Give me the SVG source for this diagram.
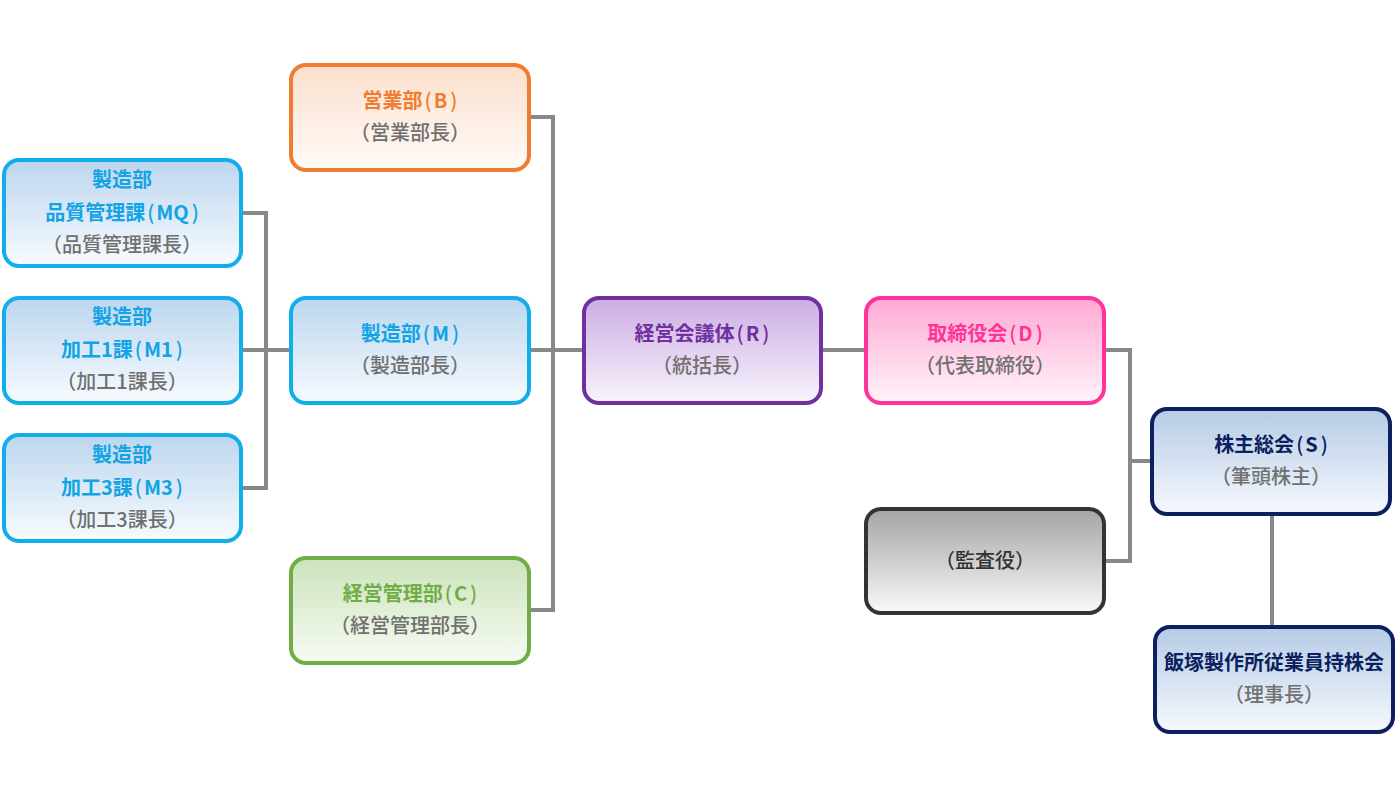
<svg xmlns="http://www.w3.org/2000/svg" width="1400" height="790" viewBox="0 0 1400 790">
<defs>
<linearGradient id="gCyan" x1="0" y1="0" x2="0" y2="1"><stop offset="0" stop-color="#bcd6ee"/><stop offset="1" stop-color="#f7fbff"/></linearGradient>
<linearGradient id="gOrange" x1="0" y1="0" x2="0" y2="1"><stop offset="0" stop-color="#fbdfcc"/><stop offset="1" stop-color="#fffbf8"/></linearGradient>
<linearGradient id="gGreen" x1="0" y1="0" x2="0" y2="1"><stop offset="0" stop-color="#cbe3bb"/><stop offset="1" stop-color="#f7fbf4"/></linearGradient>
<linearGradient id="gPurple" x1="0" y1="0" x2="0" y2="1"><stop offset="0" stop-color="#cbade3"/><stop offset="1" stop-color="#f8f4fc"/></linearGradient>
<linearGradient id="gPink" x1="0" y1="0" x2="0" y2="1"><stop offset="0" stop-color="#ffa9d4"/><stop offset="1" stop-color="#fff4fa"/></linearGradient>
<linearGradient id="gGray" x1="0" y1="0" x2="0" y2="1"><stop offset="0" stop-color="#a4a4a4"/><stop offset="1" stop-color="#f9f9f9"/></linearGradient>
<linearGradient id="gNavy" x1="0" y1="0" x2="0" y2="1"><stop offset="0" stop-color="#b6cbe6"/><stop offset="1" stop-color="#f6f9fe"/></linearGradient>
</defs>
<style>
.box{stroke-width:4}
.cyan{fill:url(#gCyan);stroke:#12aeea}
.orange{fill:url(#gOrange);stroke:#ee7d31}
.green{fill:url(#gGreen);stroke:#71ad47}
.purple{fill:url(#gPurple);stroke:#7030a0}
.pink{fill:url(#gPink);stroke:#ff3399}
.gray{fill:url(#gGray);stroke:#333333}
.navy{fill:url(#gNavy);stroke:#0c1f5e}
text{font-family:"Noto Sans CJK JP","Noto Sans",sans-serif;font-size:20px;text-anchor:middle}
.t{font-weight:700}
.s{font-weight:500;fill:#707070}
.tc{fill:#12a4e4}
.to{fill:#ee7d31}
.tg{fill:#71ad47}
.tp{fill:#7030a0}
.tk{fill:#ff3399}
.tn{fill:#0c1f5e}
.td{font-weight:500;fill:#333333}
.p{font-weight:500}
.conn{fill:none;stroke:#888888;stroke-width:4}
</style>
<rect width="1400" height="790" fill="#ffffff"/>
<g id="connectors">
<path class="conn" d="M243 213H266V488H243M243 350H289"/>
<path class="conn" d="M531 117H553V610H531M531 350H582"/>
<path class="conn" d="M823 350H864"/>
<path class="conn" d="M1106 350H1130V561H1106M1130 461H1150"/>
<path class="conn" d="M1272 516V625"/>
</g>
<g id="node-B">
<rect class="box orange" x="291" y="65" width="238" height="105" rx="15"/>
<text class="t to" x="410" y="108">営業部<tspan class="p" dx="2">(</tspan><tspan dx="2">B</tspan><tspan class="p" dx="3">)</tspan></text>
<text class="s" x="410" y="140">（営業部長）</text>
</g>
<g id="node-M">
<rect class="box cyan" x="291" y="298" width="238" height="105" rx="15"/>
<text class="t tc" x="410" y="341">製造部<tspan class="p" dx="2">(</tspan><tspan dx="2">M</tspan><tspan class="p" dx="3">)</tspan></text>
<text class="s" x="410" y="373">（製造部長）</text>
</g>
<g id="node-C">
<rect class="box green" x="291" y="558" width="238" height="105" rx="15"/>
<text class="t tg" x="410" y="601">経営管理部<tspan class="p" dx="2">(</tspan><tspan dx="2">C</tspan><tspan class="p" dx="3">)</tspan></text>
<text class="s" x="410" y="633">（経営管理部長）</text>
</g>
<g id="node-MQ">
<rect class="box cyan" x="4" y="160" width="237" height="106" rx="15"/>
<text class="t tc" x="122" y="187">製造部</text>
<text class="t tc" x="122" y="220">品質管理課<tspan class="p" dx="2">(</tspan><tspan dx="2">MQ</tspan><tspan class="p" dx="3">)</tspan></text>
<text class="s" x="122" y="252">（品質管理課長）</text>
</g>
<g id="node-M1">
<rect class="box cyan" x="4" y="298" width="237" height="105" rx="15"/>
<text class="t tc" x="122" y="324">製造部</text>
<text class="t tc" x="122" y="357">加工1課<tspan class="p" dx="2">(</tspan><tspan dx="2">M1</tspan><tspan class="p" dx="3">)</tspan></text>
<text class="s" x="122" y="389">（加工1課長）</text>
</g>
<g id="node-M3">
<rect class="box cyan" x="4" y="435" width="237" height="106" rx="15"/>
<text class="t tc" x="122" y="462">製造部</text>
<text class="t tc" x="122" y="495">加工3課<tspan class="p" dx="2">(</tspan><tspan dx="2">M3</tspan><tspan class="p" dx="3">)</tspan></text>
<text class="s" x="122" y="527">（加工3課長）</text>
</g>
<g id="node-R">
<rect class="box purple" x="584" y="298" width="237" height="105" rx="15"/>
<text class="t tp" x="702" y="341">経営会議体<tspan class="p" dx="2">(</tspan><tspan dx="2">R</tspan><tspan class="p" dx="3">)</tspan></text>
<text class="s" x="702" y="373">（統括長）</text>
</g>
<g id="node-D">
<rect class="box pink" x="866" y="298" width="238" height="105" rx="15"/>
<text class="t tk" x="985" y="341">取締役会<tspan class="p" dx="2">(</tspan><tspan dx="2">D</tspan><tspan class="p" dx="3">)</tspan></text>
<text class="s" x="985" y="373">（代表取締役）</text>
</g>
<g id="node-audit">
<rect class="box gray" x="866" y="509" width="238" height="104" rx="15"/>
<text class="td" x="985" y="568">（監査役）</text>
</g>
<g id="node-S">
<rect class="box navy" x="1152" y="409" width="238" height="105" rx="15"/>
<text class="t tn" x="1271" y="452">株主総会<tspan class="p" dx="2">(</tspan><tspan dx="2">S</tspan><tspan class="p" dx="3">)</tspan></text>
<text class="s" x="1271" y="484">（筆頭株主）</text>
</g>
<g id="node-ESOP">
<rect class="box navy" x="1155" y="627" width="238" height="105" rx="15"/>
<text class="t tn" x="1274" y="670">飯塚製作所従業員持株会</text>
<text class="s" x="1274" y="702">（理事長）</text>
</g>
</svg>
